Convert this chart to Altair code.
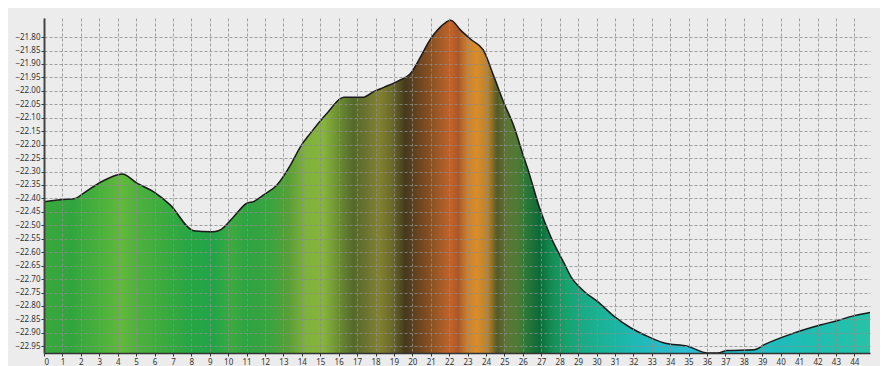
import altair as alt
import pandas as pd

xs = [0, 0.9, 1.7, 2.14, 3.14, 3.6, 4.25, 5.04, 5.94, 6.85, 8.12, 9.03, 9.3, 9.57, 10.3,
      11.02, 11.38, 11.93, 12.65, 13.38, 13.92, 14.46, 15.37, 16.28, 17.3, 17.9, 18.45,
      19.27, 19.9, 20.45, 20.9, 21.53, 22.08, 22.62, 23.2, 23.85, 24.43, 24.98, 25.52,
      25.98, 26.34, 26.88, 27.51, 28.24, 28.6, 29.33, 30.05, 30.96, 31.87, 32.77, 33.68,
      34.95, 36.04, 36.58, 37.1, 38.57, 39.11, 40.75, 42.2, 43.1, 44.0, 44.85]
ys = [-22.412, -22.405, -22.400, -22.381, -22.337, -22.322, -22.309, -22.343, -22.375,
      -22.424, -22.520, -22.524, -22.523, -22.517, -22.468, -22.418, -22.412, -22.387,
      -22.350, -22.276, -22.208, -22.158, -22.083, -22.024, -22.024, -22.003, -21.987,
      -21.962, -21.935, -21.873, -21.817, -21.762, -21.737, -21.774, -21.810, -21.848,
      -21.947, -22.046, -22.133, -22.232, -22.306, -22.430, -22.542, -22.641, -22.690,
      -22.746, -22.783, -22.839, -22.882, -22.913, -22.938, -22.950, -22.975, -22.975,
      -22.966, -22.963, -22.944, -22.900, -22.870, -22.854, -22.836, -22.824]

x_ticks = list(range(0, 45))
y_ticks = [round(-21.80 - 0.05 * i, 2) for i in range(24)]

X_MAX = 44.85
Y_MIN = -22.975
Y_MAX = -21.729

stop_x = [0, 1.5, 3, 4.2, 5.2, 6.5, 8, 9.2, 10.2, 11, 12.3, 13.3, 14.2, 15.2, 16, 16.8,
          17.5, 18.2, 18.9, 19.6, 20.3, 21.1, 21.7, 22.1, 22.5, 23, 23.5, 24.1, 24.6, 25.1,
          25.7, 26.2, 26.9, 27.6, 28.3, 29.2, 30.5, 32, 33.5, 35, 36.5, 38, 40, 42, 44.85]
stop_c = ["#3aa93c", "#31a53e", "#49b03c", "#62b93c", "#4cb03e", "#3aab3f", "#27a545",
          "#21a547", "#3cab40", "#2fa342", "#3aa53f", "#5a9e38", "#7fb23b", "#86b43c",
          "#6b8d32", "#55692b", "#6a7430", "#83822f", "#6b6a2a", "#443a1c", "#6a4420",
          "#8e5322", "#ad5e27", "#c2622b", "#a9582a", "#cf812b", "#d98d2b", "#b9832c",
          "#555a28", "#5c7633", "#4f7a35", "#2b7838", "#0c6a38", "#148e55", "#16a26c",
          "#1aab84", "#1bb39a", "#1db9b4", "#25bcc6", "#2dbdd2", "#1fc0cf", "#1fbfc6",
          "#1dbcbb", "#1fbeb0", "#27c2a6"]

df = pd.DataFrame({"x": xs, "y": ys})

grad = alt.Gradient(
    gradient="linear",
    stops=[alt.GradientStop(offset=min(1.0, sx / X_MAX), color=c) for sx, c in zip(stop_x, stop_c)],
    x1=0, x2=1, y1=0, y2=0,
)

xscale = alt.Scale(domain=[0, X_MAX], nice=False, zero=False)
yscale = alt.Scale(domain=[Y_MIN, Y_MAX], nice=False, zero=False)

xaxis = alt.Axis(values=x_ticks, title=None, format="d", grid=True, gridDash=[3, 2],
                 gridColor="#8c8c8c", gridWidth=1, gridOpacity=0.8, domainColor="#333333",
                 domainWidth=1.5, tickColor="#333333", tickSize=3, labelFontSize=8,
                 labelColor="#333333", labelFont="Noto Sans", labelPadding=2, zindex=1,
                 labelOverlap=False)
yaxis = alt.Axis(values=y_ticks, title=None, format=".2f", grid=True, gridDash=[3, 2],
                 gridColor="#8c8c8c", gridWidth=1, gridOpacity=0.8, domainColor="#444444",
                 domainWidth=2, tickColor="#333333", tickSize=3, labelFontSize=8,
                 labelColor="#333333", labelFont="Noto Sans", labelPadding=1, zindex=1,
                 labelOverlap=False)

base = alt.Chart(df)

area = base.mark_area(color=grad, clip=True, interpolate="monotone").encode(
    x=alt.X("x:Q", scale=xscale, axis=xaxis),
    y=alt.Y("y:Q", scale=yscale, axis=yaxis),
    y2=alt.datum(Y_MIN),
)

line = base.mark_line(color="#1a1a1a", strokeWidth=1.5, clip=True,
                      interpolate="monotone").encode(
    x=alt.X("x:Q", scale=xscale, axis=xaxis),
    y=alt.Y("y:Q", scale=yscale, axis=yaxis),
)

chart = (area + line).properties(
    width=826, height=335,
    autosize=alt.AutoSizeParams(type="none"),
    padding={"left": 36, "top": 10, "right": 10, "bottom": 13},
    background="#ececec",
).configure_view(stroke=None, fill="#ececec")

chart.save("out.html", embed_options={"renderer": "svg", "actions": False})
